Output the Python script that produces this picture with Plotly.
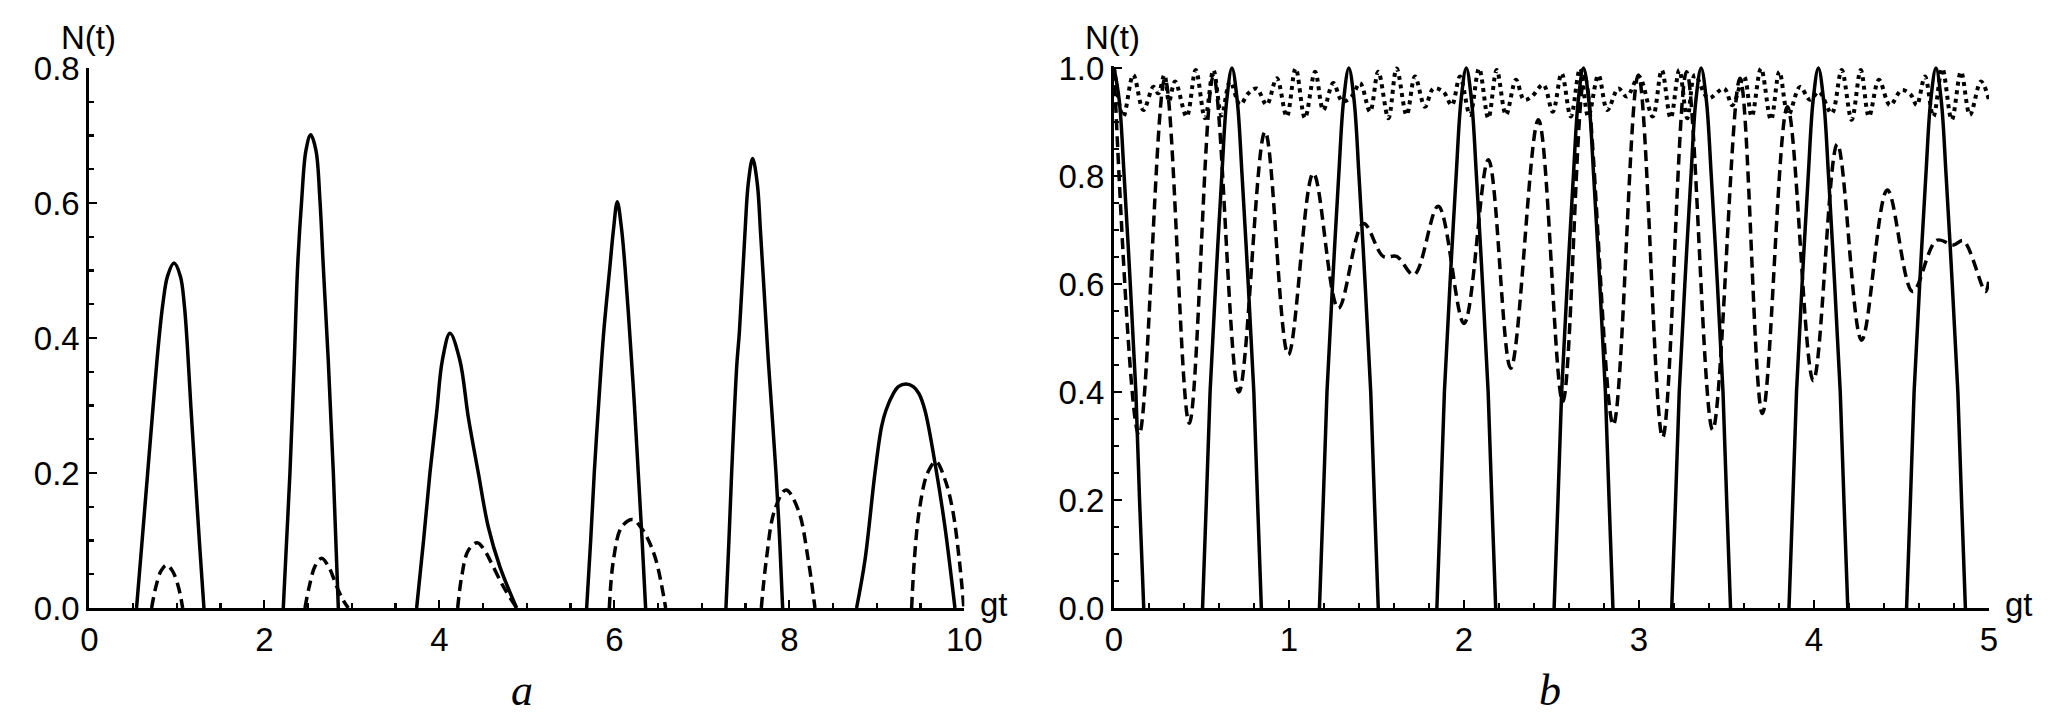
import plotly.graph_objects as go

W, H = 2070, 723

# ---------------- panel a ----------------
a_solid_x = [0.54, 0.60, 0.667, 0.73, 0.79, 0.84, 0.895, 0.968, 1.04, 1.085, 1.12, 1.16, 1.208, 1.26, 1.31, None,
             2.217, 2.255, 2.293, 2.343, 2.381, 2.427, 2.476, 2.530, 2.590, 2.636, 2.674, 2.731, 2.789, 2.846, None,
             3.741, 3.82, 3.893, 3.97, 4.035, 4.122, 4.235, 4.331, 4.446, 4.560, 4.693, 4.884, None,
             5.684, 5.73, 5.771, 5.83, 5.88, 5.95, 5.99, 6.034, 6.08, 6.122, 6.18, 6.23, 6.274, 6.318, 6.358, None,
             7.276, 7.31, 7.341, 7.40, 7.43, 7.493, 7.531, 7.581, 7.634, 7.672, 7.741, 7.760, 7.848, 7.89, 7.924, None,
             8.769, 8.865, 8.979, 9.055, 9.105, 9.19, 9.246, 9.333, 9.417, 9.48, 9.550, 9.684, 9.779, 9.893]
a_solid_y = [0, 0.094, 0.2, 0.3, 0.39, 0.45, 0.492, 0.511, 0.492, 0.45, 0.39, 0.30, 0.2, 0.095, 0, None,
             0, 0.1, 0.2, 0.367, 0.506, 0.604, 0.678, 0.701, 0.678, 0.604, 0.506, 0.367, 0.2, 0, None,
             0, 0.1, 0.2, 0.29, 0.367, 0.407, 0.367, 0.283, 0.2, 0.12, 0.061, 0, None,
             0, 0.1, 0.2, 0.32, 0.41, 0.506, 0.56, 0.602, 0.565, 0.506, 0.40, 0.30, 0.2, 0.1, 0, None,
             0, 0.1, 0.2, 0.36, 0.41, 0.555, 0.629, 0.666, 0.629, 0.555, 0.407, 0.367, 0.2, 0.1, 0, None,
             0, 0.071, 0.2, 0.269, 0.293, 0.318, 0.328, 0.332, 0.328, 0.318, 0.293, 0.2, 0.12, 0]

a_dash_x = [0.712, 0.762, 0.82, 0.884, 0.95, 1.017, 1.067, None,
            2.465, 2.514, 2.58, 2.655, 2.74, 2.827, 2.90, 2.960, None,
            4.210, 4.255, 4.33, 4.434, 4.52, 4.579, 4.731, 4.884, None,
            5.943, 5.99, 6.084, 6.21, 6.30, 6.370, 6.476, 6.587, None,
            7.680, 7.737, 7.832, 7.962, 8.103, 8.217, 8.293, None,
            9.398, 9.429, 9.486, 9.58, 9.676, 9.78, 9.867, 9.943, 9.995]
a_dash_y = [0, 0.032, 0.055, 0.0637, 0.055, 0.032, 0, None,
            0, 0.032, 0.062, 0.0736, 0.06, 0.032, 0.012, 0, None,
            0, 0.046, 0.085, 0.0968, 0.085, 0.071, 0.032, 0, None,
            0, 0.071, 0.12, 0.131, 0.12, 0.106, 0.071, 0, None,
            0, 0.071, 0.145, 0.175, 0.145, 0.071, 0, None,
            0, 0.071, 0.145, 0.20, 0.217, 0.19, 0.145, 0.071, 0]

# ---------------- panel b ----------------
b_solid_x = [0, 0.03, 0.058, 0.093, 0.125, 0.146, 0.170, None,
             0.506, 0.528, 0.549, 0.581, 0.616, 0.644, 0.674, 0.704, 0.732, 0.767, 0.799, 0.820, 0.842, None,
             1.174, 1.196, 1.217, 1.249, 1.284, 1.312, 1.342, 1.372, 1.400, 1.435, 1.467, 1.488, 1.510, None,
             1.845, 1.867, 1.888, 1.920, 1.955, 1.983, 2.013, 2.043, 2.071, 2.106, 2.138, 2.159, 2.181, None,
             2.515, 2.537, 2.558, 2.590, 2.625, 2.653, 2.683, 2.713, 2.741, 2.776, 2.808, 2.829, 2.851, None,
             3.187, 3.209, 3.230, 3.262, 3.297, 3.325, 3.355, 3.385, 3.413, 3.448, 3.480, 3.501, 3.523, None,
             3.857, 3.879, 3.900, 3.932, 3.967, 3.995, 4.025, 4.055, 4.083, 4.118, 4.150, 4.171, 4.193, None,
             4.529, 4.551, 4.572, 4.604, 4.639, 4.667, 4.697, 4.727, 4.755, 4.790, 4.822, 4.843, 4.865]
b_solid_y = [1.0, 0.94, 0.8, 0.6, 0.4, 0.2, 0, None,
             0, 0.2, 0.4, 0.6, 0.8, 0.94, 1.0, 0.94, 0.8, 0.6, 0.4, 0.2, 0, None,
             0, 0.2, 0.4, 0.6, 0.8, 0.94, 1.0, 0.94, 0.8, 0.6, 0.4, 0.2, 0, None,
             0, 0.2, 0.4, 0.6, 0.8, 0.94, 1.0, 0.94, 0.8, 0.6, 0.4, 0.2, 0, None,
             0, 0.2, 0.4, 0.6, 0.8, 0.94, 1.0, 0.94, 0.8, 0.6, 0.4, 0.2, 0, None,
             0, 0.2, 0.4, 0.6, 0.8, 0.94, 1.0, 0.94, 0.8, 0.6, 0.4, 0.2, 0, None,
             0, 0.2, 0.4, 0.6, 0.8, 0.94, 1.0, 0.94, 0.8, 0.6, 0.4, 0.2, 0, None,
             0, 0.2, 0.4, 0.6, 0.8, 0.94, 1.0, 0.94, 0.8, 0.6, 0.4, 0.2, 0]

b_dash_x = [0, 0.143, 0.291, 0.430, 0.568, 0.714, 0.863, 0.996, 1.139, 1.282, 1.425, 1.539, 1.615,
            1.714, 1.853, 2.0, 2.139, 2.267, 2.425, 2.564, 2.69, 2.853, 2.996, 3.135, 3.272, 3.421,
            3.577, 3.705, 3.848, 3.996, 4.133, 4.272, 4.419, 4.564, 4.701, 4.796, 4.853, 4.98, 5.0]
b_dash_y = [1.0, 0.320, 0.98, 0.342, 0.985, 0.40, 0.882, 0.469, 0.805, 0.555, 0.712, 0.651, 0.651,
            0.617, 0.744, 0.527, 0.830, 0.444, 0.904, 0.382, 0.985, 0.339, 0.987, 0.316, 0.993, 0.33,
            0.981, 0.36, 0.928, 0.421, 0.859, 0.496, 0.774, 0.586, 0.681, 0.672, 0.68, 0.586, 0.61]

b_dot_x = [0, 0.053, 0.110, 0.168, 0.225, 0.253, 0.288, 0.314, 0.349, 0.415, 0.467, 0.520, 0.568,
           0.615, 0.663, 0.720, 0.768, 0.815, 0.872, 0.930, 0.987, 1.038, 1.091, 1.149, 1.196, 1.253,
           1.305, 1.358, 1.406, 1.463, 1.510, 1.568, 1.615, 1.672, 1.720, 1.777, 1.825, 1.882, 1.930,
           1.977, 2.034, 2.086, 2.139, 2.187, 2.240, 2.297, 2.343, 2.387, 2.453, 2.507, 2.558, 2.610,
           2.663, 2.710, 2.768, 2.819, 2.882, 2.930, 3.00, 3.078, 3.130, 3.181, 3.230, 3.276, 3.320,
           3.396, 3.486, 3.533, 3.600, 3.644, 3.697, 3.754, 3.802, 3.853, 3.920, 3.977, 4.028, 4.101,
           4.158, 4.215, 4.267, 4.314, 4.371, 4.434, 4.501, 4.554, 4.587, 4.634, 4.682, 4.733, 4.787,
           4.840, 4.891, 4.954, 5.0]
b_dot_y = [1.0, 0.910, 0.987, 0.922, 0.965, 0.953, 0.987, 0.938, 0.975, 0.910, 0.996, 0.907, 0.996,
           0.912, 0.975, 0.932, 0.953, 0.962, 0.932, 0.981, 0.910, 0.999, 0.907, 0.993, 0.922, 0.972,
           0.938, 0.947, 0.972, 0.919, 0.993, 0.907, 0.999, 0.913, 0.984, 0.928, 0.962, 0.956, 0.931,
           0.984, 0.913, 0.999, 0.907, 0.996, 0.913, 0.978, 0.941, 0.947, 0.969, 0.919, 0.990, 0.910,
           0.999, 0.910, 0.987, 0.922, 0.962, 0.947, 0.984, 0.910, 0.996, 0.907, 0.996, 0.907, 0.987,
           0.944, 0.962, 0.931, 0.984, 0.910, 0.999, 0.904, 0.993, 0.913, 0.965, 0.941, 0.956, 0.916,
           0.996, 0.904, 0.996, 0.910, 0.978, 0.931, 0.959, 0.950, 0.931, 0.984, 0.910, 0.999, 0.904,
           0.993, 0.913, 0.975, 0.941]

a_xticks = [0, 2, 4, 6, 8, 10]
a_yticks = [0.0, 0.2, 0.4, 0.6, 0.8]
b_xticks = [0, 1, 2, 3, 4, 5]
b_yticks = [0.0, 0.2, 0.4, 0.6, 0.8, 1.0]

FONT = "Liberation Sans"
FS = 33
LW = 3.5
fig = go.Figure()


def add(x, y, xa, ya, dash, width=LW):
    fig.add_trace(go.Scatter(x=x, y=y, xaxis=xa, yaxis=ya, mode="lines", connectgaps=False,
                             hoverinfo="skip",
                             line=dict(color="black", width=width, shape="spline", smoothing=1.0, dash=dash)))


add(a_solid_x, a_solid_y, "x", "y", "solid")
add(a_dash_x, a_dash_y, "x", "y", "11px,6px")
add(b_solid_x, b_solid_y, "x2", "y2", "solid")
add(b_dash_x, b_dash_y, "x2", "y2", "11px,6px")
add(b_dot_x, b_dot_y, "x2", "y2", "4px,4.5px", width=4)

y0 = 608
ydom_bottom = (H - y0) / H

common = dict(showline=True, linecolor="black", linewidth=3, ticks="inside", ticklen=8, tickwidth=2.2,
              tickcolor="black", showgrid=False, zeroline=False, automargin=False,
              tickfont=dict(family=FONT, size=FS, color="black"))
minor_common = dict(ticklen=5, tickwidth=2.2, ticks="inside", tickcolor="black", showgrid=False)

fig.update_layout(
    width=W, height=H, margin=dict(l=0, r=0, t=0, b=0, autoexpand=False),
    paper_bgcolor="white", plot_bgcolor="white", showlegend=False, hovermode=False,
    xaxis=dict(domain=[89.3 / W, 964.3 / W], range=[0, 10], anchor="y", tickmode="array",
               tickvals=a_xticks, ticktext=[str(v) for v in a_xticks],
               minor=dict(dtick=0.5, tick0=0, **minor_common), **common),
    yaxis=dict(domain=[ydom_bottom, (H - 68) / H], range=[0, 0.8], anchor="x", tickmode="array",
               tickvals=a_yticks, ticktext=["%.1f" % v for v in a_yticks],
               minor=dict(dtick=0.05, tick0=0, **minor_common), **common),
    xaxis2=dict(domain=[1114 / W, 1989 / W], range=[0, 5], anchor="y2", tickmode="array",
                tickvals=b_xticks, ticktext=[str(v) for v in b_xticks],
                minor=dict(dtick=0.2, tick0=0, **minor_common), **common),
    yaxis2=dict(domain=[ydom_bottom, (H - 65.8) / H], range=[0, 1.004], anchor="x2", tickmode="array",
                tickvals=b_yticks, ticktext=["%.1f" % v for v in b_yticks],
                minor=dict(dtick=0.05, tick0=0, **minor_common), **common),
)


def ann(text, px, py, size=FS, family=FONT, italic=False, xanchor="center"):
    t = "<i>%s</i>" % text if italic else text
    fig.add_annotation(text=t, x=px / W, y=1 - py / H, xref="paper", yref="paper", showarrow=False,
                       xanchor=xanchor, yanchor="middle",
                       font=dict(family=family, size=size, color="black"))


ann("N(t)", 88, 37)
ann("N(t)", 1112, 37)
ann("gt", 978, 604, xanchor="left")
ann("gt", 2003, 604, xanchor="left")
ann("a", 522, 690, size=44, family="Liberation Serif", italic=True)
ann("b", 1550, 690, size=44, family="Liberation Serif", italic=True)

fig.write_html("out.html", config={"displayModeBar": False, "staticPlot": True},
               post_script="document.body.style.margin='0px';")
